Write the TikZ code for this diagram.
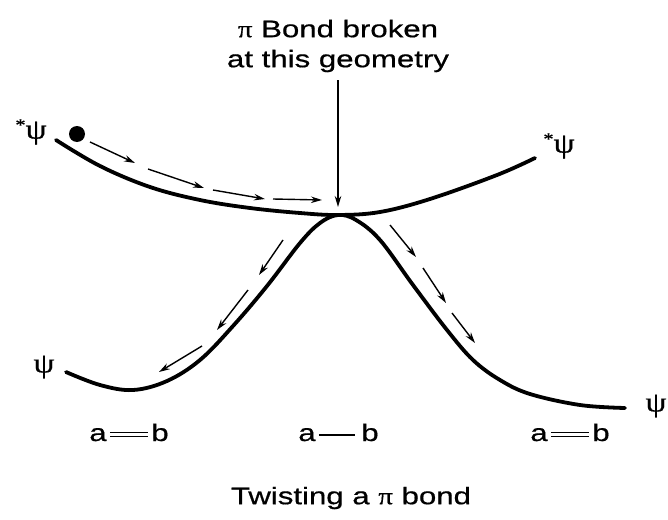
\documentclass[tikz,border=0pt]{standalone}
\usepackage{fontspec}
\setmainfont[FakeStretch=1.3, FakeBold=0.6]{Liberation Sans}
\newfontfamily\grk[FakeStretch=1.2, FakeBold=0.6]{Liberation Serif}
\usetikzlibrary{arrows.meta}
\begin{document}
\begin{tikzpicture}[x=1pt,y=-1pt,
  curve/.style={line width=3.8pt, line cap=round},
  flow/.style={line width=1.4pt,-{Stealth[length=11pt,width=6.5pt]}},
  lbl/.style={font=\fontsize{24}{30}\selectfont, inner sep=0pt},
  psi/.style={font=\grk\fontsize{28}{28}\selectfont, inner sep=0pt},
  dbond/.style={line width=1.5pt, double, double distance=2.4pt},
  sbond/.style={line width=1.8pt}
]
\useasboundingbox (0,0) rectangle (668,519);
\fill[white] (0,0) rectangle (668,519);

% curves
\draw[curve] plot[smooth, tension=0.6] coordinates {(56,140) (100,166) (150,187) (200,200) (250,208) (300,213) (338,215) (380,212) (430,199) (497,175) (535,158)};
\draw[curve] plot[smooth, tension=0.6] coordinates {(66,372) (100,385) (133,390) (167,381) (200,360) (233,326) (267,286) (300,243) (320,223) (338,215) (356,220) (380,240) (413,285) (447,330) (473,360) (500,380) (530,394) (580,405) (625,408)};

\coordinate (touch) at (338,213);
\fill (77,134) circle (8);

% labels
\node[lbl, align=center] (title) at (338,46) {{\grk π} Bond broken\\at this geometry};
\draw[line width=1.4pt,-{Stealth[length=11pt,width=6.5pt]}] (title.south) ++(0,8) -- ([yshift=6pt]touch);

\node[psi] (ps1) at (31,132) {\raisebox{8pt}{\fontsize{17}{17}\selectfont *}ψ};
\node[psi] (ps2) at (559,146) {\raisebox{8pt}{\fontsize{17}{17}\selectfont *}ψ};
\node[psi] (ps3) at (44,367) {ψ};
\node[psi] (ps4) at (656,406) {ψ};

% flow arrows
\draw[flow] (90,142) -- (135,163);
\draw[flow] (148,169) -- (204,188);
\draw[flow] (213,190) -- (265,199);
\draw[flow] (273,199) -- (322,200);

\draw[flow] (283,240) -- (259,275);
\draw[flow] (248,290) -- (217,330);
\draw[flow] (202,346) -- (159,372);

\draw[flow] (390,225) -- (416,257);
\draw[flow] (423,268) -- (446,303);
\draw[flow] (452,313) -- (475,343);

% bonds
\node[lbl, anchor=base] (a1) at (98,441) {a};
\node[lbl, anchor=base] (b1) at (160,441) {b};
\draw[dbond, shorten <=3pt, shorten >=3pt] (a1.east) -- (a1.east -| b1.west);

\node[lbl, anchor=base] (a2) at (307,441) {a};
\node[lbl, anchor=base] (b2) at (370,441) {b};
\draw[sbond, shorten <=3pt, shorten >=6pt] (a2.east) -- (a2.east -| b2.west);

\node[lbl, anchor=base] (a3) at (539,441) {a};
\node[lbl, anchor=base] (b3) at (601,441) {b};
\draw[dbond, shorten <=3pt, shorten >=3pt] (a3.east) -- (a3.east -| b3.west);

\node[lbl] (cap) at (351,498) {Twisting a {\grk π} bond};
\end{tikzpicture}
\end{document}
